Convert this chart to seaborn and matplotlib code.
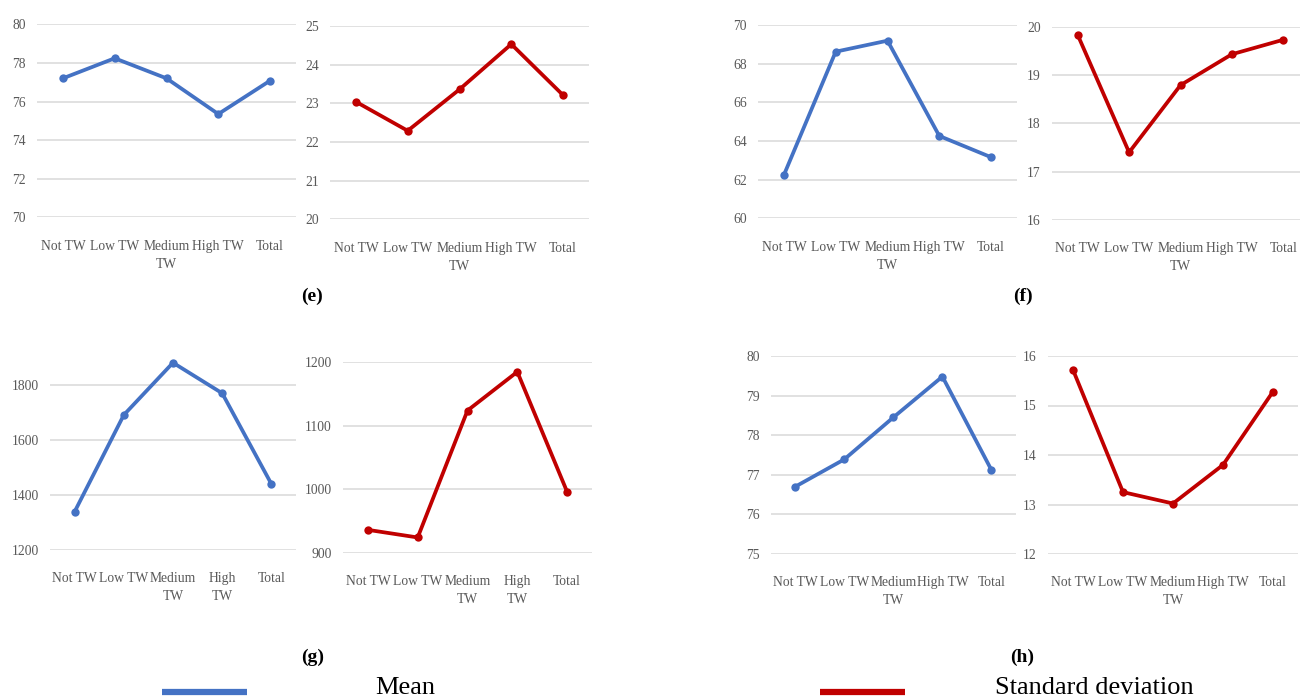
import matplotlib
matplotlib.use("Agg")
import matplotlib.pyplot as plt
import seaborn as sns
from matplotlib.lines import Line2D

sns.set_style("white")
plt.rcParams['font.family'] = ['Liberation Serif', 'DejaVu Serif']

# categories and tick labels
categories = ["Not TW", "Low TW", "Medium TW", "High TW", "Total"]
labels_one_wrap = ["Not TW", "Low TW", "Medium\nTW", "High TW", "Total"]
labels_two_wrap = ["Not TW", "Low TW", "Medium\nTW", "High\nTW", "Total"]

# (e)
e_mean = [77.2, 78.24, 77.2, 75.35, 77.08]
e_sd = [23.04, 22.29, 23.36, 24.53, 23.21]
# (f)
f_mean = [62.24, 68.62, 69.19, 64.26, 63.16]
f_sd = [19.83, 17.40, 18.79, 19.43, 19.73]
# (g)
g_mean = [1339, 1691, 1881, 1770, 1440]
g_sd = [936, 924, 1124, 1185, 996]
# (h)
h_mean = [76.70, 77.39, 78.45, 79.48, 77.12]
h_sd = [15.72, 13.25, 13.02, 13.80, 15.28]

BLUE = '#4472C4'
RED = '#C00000'
GRID = '#D9D9D9'
TXT = '#595959'

W, H = 1300, 700
fig = plt.figure(figsize=(13, 7), dpi=100, facecolor='white')


def px_axes(x0, x1, y_top, y_bot):
    # pixel box (top-left origin) -> figure fraction
    return fig.add_axes([x0 / W, 1 - y_bot / H, (x1 - x0) / W, (y_bot - y_top) / H])


def panel(box, values, color, ylim, yticks, xlabels):
    ax = px_axes(*box)
    sns.lineplot(x=categories, y=values, sort=False, color=color, linewidth=2.7,
                 marker='o', markersize=6, markeredgewidth=0, ax=ax,
                 solid_joinstyle='round', solid_capstyle='round', clip_on=False)
    ax.set_xlim(-0.5, 4.5)
    ax.set_ylim(*ylim)
    ax.set_yticks(yticks)
    ax.set_xticks(range(len(categories)))
    ax.set_xticklabels(xlabels, linespacing=1.5)
    ax.set_xlabel('')
    ax.set_ylabel('')
    ax.yaxis.grid(True, color=GRID, linewidth=1.1)
    ax.xaxis.grid(False)
    ax.set_axisbelow(True)
    sns.despine(ax=ax, left=True, bottom=True)
    ax.tick_params(axis='both', length=0, colors=TXT, labelsize=9.8)
    ax.tick_params(axis='x', pad=16)
    ax.tick_params(axis='y', pad=8)
    ax.patch.set_alpha(0)
    return ax


# top row
panel((37, 296, 24.3, 217.3), e_mean, BLUE, (70, 80), range(70, 81, 2), labels_one_wrap)
panel((330, 589, 26, 219.3), e_sd, RED, (20, 25), range(20, 26), labels_one_wrap)
panel((758, 1017, 25, 218.3), f_mean, BLUE, (60, 70), range(60, 71, 2), labels_one_wrap)
panel((1052, 1309, 26.7, 220), f_sd, RED, (16, 20), range(16, 21), labels_one_wrap)

# bottom row
panel((50, 296, 357.5, 550), g_mean, BLUE, (1200, 1900), range(1200, 1801, 200), labels_two_wrap)
panel((343, 592, 362.3, 552.7), g_sd, RED, (900, 1200), range(900, 1201, 100), labels_two_wrap)
panel((770.7, 1016, 356, 554), h_mean, BLUE, (75, 80), range(75, 81), labels_one_wrap)
panel((1048, 1298, 356, 554), h_sd, RED, (12, 16), range(12, 17), labels_one_wrap)

# sub-figure letters
for x, y, s in [(312, 296, '(e)'), (1023, 296, '(f)'), (313, 657, '(g)'), (1022, 657, '(h)')]:
    fig.text(x / W, 1 - y / H, s, ha='center', va='center', fontsize=14,
             fontweight='bold', color='black')

# legend at the bottom
for x0, x1, c in [(162, 247, BLUE), (820, 905, RED)]:
    fig.add_artist(Line2D([x0 / W, x1 / W], [1 - 692 / H, 1 - 692 / H], color=c, lw=4.5,
                          solid_capstyle='butt', transform=fig.transFigure))
fig.text(375 / W, 1 - 699 / H, 'Mean', ha='left', va='bottom', fontsize=19, color='black')
fig.text(995 / W, 1 - 699 / H, 'Standard deviation', ha='left', va='bottom', fontsize=19, color='black')

fig.savefig('out.png', dpi=100, facecolor='white')
